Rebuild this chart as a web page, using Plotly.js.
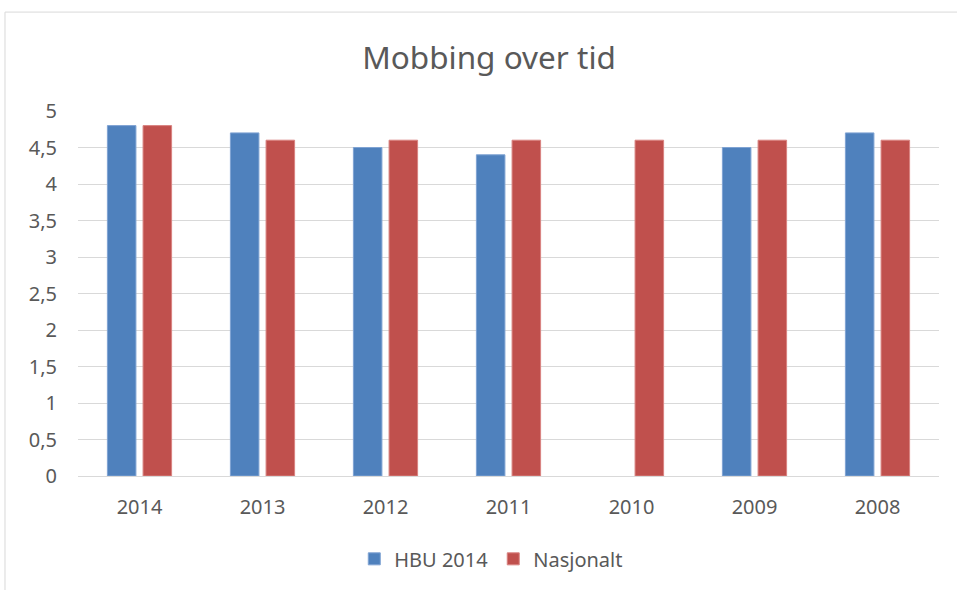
<!DOCTYPE html>
<html><head><meta charset="utf-8">
<script src="https://cdn.plot.ly/plotly-3.0.1.min.js"></script>
<style>html,body{margin:0;padding:0;overflow:hidden;background:#fff}</style>
</head><body>
<div id="chart" style="width:957px;height:590px"></div>
<script>
const categories = ["2014","2013","2012","2011","2010","2009","2008"];
const hbu2014 = [4.8, 4.7, 4.5, 4.4, null, 4.5, 4.7];
const nasjonalt = [4.8, 4.6, 4.6, 4.6, 4.6, 4.6, 4.6];
const yTicks = [0,0.5,1,1.5,2,2.5,3,3.5,4,4.5,5];

const fontFam = "Noto Sans, Open Sans, sans-serif";
const traces = [
  {type:"bar", name:"HBU 2014", x:categories, y:hbu2014, marker:{color:"#4F81BD", line:{color:"#7FA3D3", width:1}}},
  {type:"bar", name:"Nasjonalt", x:categories, y:nasjonalt, marker:{color:"#C0504D", line:{color:"#D98380", width:1}}}
];
const layout = {
  width:957, height:590,
  margin:{l:78, r:18, t:111, b:114},
  paper_bgcolor:"#fff", plot_bgcolor:"#fff",
  separators:",.",
  font:{family:fontFam, color:"#595959", size:20},
  title:{text:"Mobbing over tid", font:{size:31.5, color:"#595959", family:fontFam}, x:0.511, xanchor:"center", y:0.902, yanchor:"middle"},
  barmode:"group", bargap:0.42, bargroupgap:0.2,
  xaxis:{type:"category", showgrid:false, showline:false, ticks:"", ticklabelstandoff:17, tickfont:{size:20, color:"#595959"}},
  yaxis:{range:[0,5], tickvals:yTicks, showgrid:true, gridcolor:"#D9D9D9", gridwidth:1, zeroline:true, zerolinecolor:"#D9D9D9", zerolinewidth:1, showline:false, ticks:"", ticklabelstandoff:20, tickfont:{size:20, color:"#595959"}},
  showlegend:true,
  legend:{orientation:"h", x:0.48, xanchor:"center", y:-0.227, yanchor:"middle", font:{size:20, color:"#595959"}, itemwidth:30, traceorder:"normal"},
  shapes:[
    {type:"line", xref:"paper", yref:"paper", x0:-0.0848, x1:1.1, y0:1.271, y1:1.271, line:{color:"#D9D9D9", width:1}},
    {type:"line", xref:"paper", yref:"paper", x0:-0.0848, x1:-0.0848, y0:1.271, y1:-0.4, line:{color:"#D9D9D9", width:1}}
  ]
};
Plotly.newPlot("chart", traces, layout, {displayModeBar:false, staticPlot:true});
</script>
</body></html>
